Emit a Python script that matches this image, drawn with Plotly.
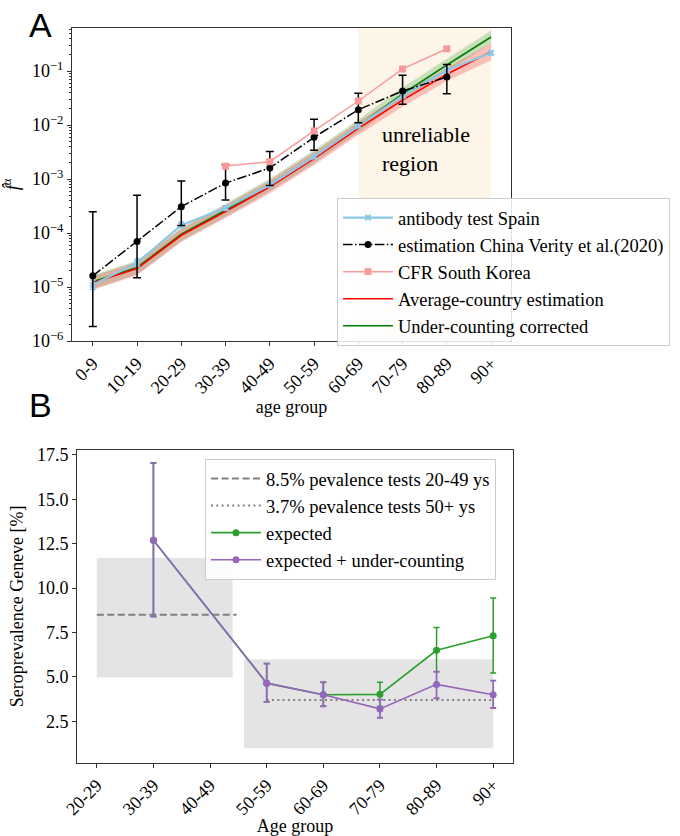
import plotly.graph_objects as go

# ---------------- Panel A data ----------------
age_A = ["0-9", "10-19", "20-29", "30-39", "40-49", "50-59", "60-69", "70-79", "80-89", "90+"]

spain = [1.1e-5, 2.8e-5, 1.4e-4, 2.9e-4, 7.8e-4, 2.6e-3, 9.6e-3, 3.5e-2, 0.104, 0.22]
spain_lo = [0.9e-5, 2.4e-5, 1.25e-4, 2.65e-4, 7.2e-4, 2.4e-3, 8.9e-3, 3.2e-2, 0.094, 0.20]
spain_hi = [1.35e-5, 3.3e-5, 1.6e-4, 3.2e-4, 8.5e-4, 2.8e-3, 1.03e-2, 3.8e-2, 0.115, 0.24]

age_verity = ["0-9", "10-19", "20-29", "30-39", "40-49", "50-59", "60-69", "70-79", "80-89"]
verity = [1.61e-5, 6.95e-5, 3.09e-4, 8.44e-4, 1.61e-3, 5.95e-3, 1.93e-2, 4.28e-2, 7.8e-2]
verity_lo = [1.85e-6, 1.49e-5, 1.38e-4, 4.08e-4, 7.64e-4, 3.44e-3, 1.11e-2, 2.45e-2, 3.8e-2]
verity_hi = [2.49e-4, 5.02e-4, 9.23e-4, 1.85e-3, 3.23e-3, 1.28e-2, 3.89e-2, 8.44e-2, 1.33e-1]

age_korea = ["30-39", "40-49", "50-59", "60-69", "70-79", "80-89"]
korea = [1.74e-3, 2.1e-3, 7.8e-3, 2.8e-2, 0.11, 0.26]

avg = [1.2e-5, 2.2e-5, 9.1e-5, 2.5e-4, 7.2e-4, 2.4e-3, 8.7e-3, 2.9e-2, 8.8e-2, 0.23]
avg_lo = [0.88e-5, 1.65e-5, 6.8e-5, 1.9e-4, 5.4e-4, 1.8e-3, 6.6e-3, 2.2e-2, 6.6e-2, 0.16]
avg_hi = [1.6e-5, 2.95e-5, 1.2e-4, 3.3e-4, 9.5e-4, 3.2e-3, 1.15e-2, 3.8e-2, 0.115, 0.33]

corr = [1.25e-5, 2.3e-5, 9.5e-5, 2.65e-4, 7.8e-4, 2.6e-3, 9.6e-3, 3.8e-2, 0.13, 0.43]
corr_lo = [0.92e-5, 1.7e-5, 7.1e-5, 2.0e-4, 5.9e-4, 1.95e-3, 7.3e-3, 2.9e-2, 0.10, 0.33]
corr_hi = [1.65e-5, 3.1e-5, 1.25e-4, 3.5e-4, 1.03e-3, 3.45e-3, 1.27e-2, 5.0e-2, 0.17, 0.57]

unreliable_span = ["60-69", "90+"]
ytick_A = [1e-6, 1e-5, 1e-4, 1e-3, 1e-2, 1e-1]
ytick_A_text = ["10<sup>−6</sup>", "10<sup>−5</sup>", "10<sup>−4</sup>",
                "10<sup>−3</sup>", "10<sup>−2</sup>", "10<sup>−1</sup>"]

# ---------------- Panel B data ----------------
age_B = ["20-29", "30-39", "40-49", "50-59", "60-69", "70-79", "80-89", "90+"]
age_pts = ["30-39", "50-59", "60-69", "70-79", "80-89", "90+"]

expected = [12.7, 4.65, 4.0, 4.02, 6.5, 7.32]
expected_lo = [8.4, 3.6, 3.35, 3.35, 5.29, 5.22]
expected_hi = [17.05, 5.75, 4.7, 4.7, 7.79, 9.44]

exp_uc = [12.7, 4.65, 4.0, 3.2, 4.58, 4.0]
exp_uc_lo = [8.4, 3.6, 3.35, 2.7, 3.8, 3.25]
exp_uc_hi = [17.05, 5.75, 4.7, 3.72, 5.3, 4.79]

# prevalence tests: level, CI low, CI high, box span (category positions), line span
prev_young = dict(level=8.5, lo=4.97, hi=11.7, box=(0, 2.4), line=(0, 2.47),
                  name="8.5% pevalence tests 20-49 ys")
prev_old = dict(level=3.7, lo=0.98, hi=6.0, box=(2.6, 7.0), line=(3, 7),
                name="3.7% pevalence tests 50+ ys")

SERIF = "Liberation Serif"
FS = 18
LFS = 18.5
AX = "#333333"

iA = {a: i for i, a in enumerate(age_A)}
iB = {a: i for i, a in enumerate(age_B)}
xA = [iA[a] for a in age_A]

fig = go.Figure()

# bands (green first, red on top)
fig.add_trace(go.Scatter(x=xA + xA[::-1], y=corr_hi + corr_lo[::-1], fill="toself",
                         fillcolor="rgba(0,128,0,0.2)", line=dict(width=0),
                         showlegend=False, hoverinfo="skip", xaxis="x", yaxis="y"))
fig.add_trace(go.Scatter(x=xA + xA[::-1], y=avg_hi + avg_lo[::-1], fill="toself",
                         fillcolor="rgba(255,0,0,0.22)", line=dict(width=0),
                         showlegend=False, hoverinfo="skip", xaxis="x", yaxis="y"))

fig.add_trace(go.Scatter(x=xA, y=corr, mode="lines", name="Under-counting corrected",
                         line=dict(color="green", width=1.6), legendrank=5,
                         legendgroup="g5", xaxis="x", yaxis="y"))
fig.add_trace(go.Scatter(x=xA, y=avg, mode="lines", name="Average-country estimation",
                         line=dict(color="red", width=1.6), legendrank=4,
                         legendgroup="g4", xaxis="x", yaxis="y"))
fig.add_trace(go.Scatter(x=xA, y=spain, mode="lines+markers", name="antibody test Spain",
                         line=dict(color="#8ec8e6", width=2.2),
                         marker=dict(symbol="x", size=6, color="#8ec8e6"),
                         error_y=dict(type="data", symmetric=False,
                                      array=[h - v for h, v in zip(spain_hi, spain)],
                                      arrayminus=[v - l for v, l in zip(spain, spain_lo)],
                                      color="#8ec8e6", thickness=1.5, width=3),
                         legendrank=1, legendgroup="g1", xaxis="x", yaxis="y"))
xV = [iA[a] for a in age_verity]
fig.add_trace(go.Scatter(x=xV, y=verity, mode="lines+markers",
                         name="estimation China Verity et al.(2020)",
                         line=dict(color="black", width=1.5, dash="9.6px,2.4px,1.5px,2.4px"),
                         marker=dict(symbol="circle", size=7, color="black"),
                         error_y=dict(type="data", symmetric=False,
                                      array=[h - v for h, v in zip(verity_hi, verity)],
                                      arrayminus=[v - l for v, l in zip(verity, verity_lo)],
                                      color="black", thickness=1.5, width=4),
                         legendrank=2, legendgroup="g2", xaxis="x", yaxis="y"))
xK = [iA[a] for a in age_korea]
fig.add_trace(go.Scatter(x=xK, y=korea, mode="lines+markers", name="CFR South Korea",
                         line=dict(color="#f99a9a", width=1.5),
                         marker=dict(symbol="square", size=7, color="#f99a9a"),
                         legendrank=3, legendgroup="g3", xaxis="x", yaxis="y"))

# ---------------- Panel B traces ----------------
for p, dash, grp in [(prev_young, "7px,3.5px", "h1"), (prev_old, "2px,3.3px", "h2")]:
    fig.add_trace(go.Scatter(x=list(p["line"]), y=[p["level"], p["level"]], mode="lines",
                             name=p["name"], line=dict(color="#808080", width=2, dash=dash),
                             legend="legend2", legendgroup=grp, xaxis="x2", yaxis="y2"))
xP = [iB[a] for a in age_pts]
fig.add_trace(go.Scatter(x=xP, y=expected, mode="lines+markers", name="expected",
                         line=dict(color="#2ca02c", width=1.6),
                         marker=dict(size=7, color="#2ca02c"),
                         error_y=dict(type="data", symmetric=False,
                                      array=[h - v for h, v in zip(expected_hi, expected)],
                                      arrayminus=[v - l for v, l in zip(expected, expected_lo)],
                                      color="#2ca02c", thickness=1.5, width=3),
                         legend="legend2", legendgroup="h3", xaxis="x2", yaxis="y2"))
fig.add_trace(go.Scatter(x=xP, y=exp_uc, mode="lines+markers", name="expected + under-counting",
                         line=dict(color="#9467bd", width=1.6),
                         marker=dict(size=7, color="#9467bd"),
                         error_y=dict(type="data", symmetric=False,
                                      array=[h - v for h, v in zip(exp_uc_hi, exp_uc)],
                                      arrayminus=[v - l for v, l in zip(exp_uc, exp_uc_lo)],
                                      color="#9467bd", thickness=1.8, width=3),
                         legend="legend2", legendgroup="h4", xaxis="x2", yaxis="y2"))

shapes = [
    dict(type="rect", xref="x", yref="y domain", x0=iA[unreliable_span[0]], x1=iA[unreliable_span[1]],
         y0=0, y1=1, fillcolor="rgba(245,222,179,0.3)", line=dict(width=0), layer="below"),
]
for p in (prev_young, prev_old):
    shapes.append(dict(type="rect", xref="x2", yref="y2", x0=p["box"][0], x1=p["box"][1],
                       y0=p["lo"], y1=p["hi"], fillcolor="#e4e4e4", line=dict(width=0),
                       layer="below"))

minor_vals = [k * 10.0 ** n for n in range(-6, 0) for k in range(2, 10)]

axis_common = dict(showline=True, linecolor=AX, linewidth=1, mirror=True, ticks="outside",
                   ticklen=4, tickcolor=AX, showgrid=False, zeroline=False,
                   tickfont=dict(family=SERIF, size=FS, color="black"),
                   automargin=False)

legend_common = dict(xanchor="left", yanchor="top",
                     bgcolor="rgba(255,255,255,0.85)", bordercolor="#cccccc", borderwidth=1,
                     font=dict(family=SERIF, size=LFS, color="black"),
                     traceorder="grouped", tracegroupgap=0, itemwidth=50)

fig.update_layout(
    width=680, height=836,
    margin=dict(l=0, r=0, t=0, b=0),
    paper_bgcolor="white", plot_bgcolor="white",
    font=dict(family=SERIF, size=FS, color="black"),
    shapes=shapes,
    xaxis=dict(domain=[72 / 680, 511 / 680], anchor="y", range=[-0.47, 9.45],
               tickmode="array", tickvals=xA, ticktext=age_A, tickangle=-45,
               title=dict(text="age group", font=dict(family=SERIF, size=FS), standoff=0),
               **axis_common),
    yaxis=dict(domain=[1 - 341 / 836, 1 - 28 / 836], anchor="x", type="log", range=[-6, -0.2],
               tickmode="array", tickvals=ytick_A, ticktext=ytick_A_text,
               minor=dict(tickmode="array", tickvals=minor_vals, ticks="outside", ticklen=2,
                          tickcolor=AX),
               title=dict(text="<i>f̂</i><sup>α</sup>", font=dict(family=SERIF, size=FS), standoff=12),
               **axis_common),
    xaxis2=dict(domain=[77 / 680, 513 / 680], anchor="y2", range=[-0.35, 7.35],
                tickmode="array", tickvals=list(range(len(age_B))), ticktext=age_B, tickangle=-45,
                title=dict(text="Age group", font=dict(family=SERIF, size=FS), standoff=4),
                **axis_common),
    yaxis2=dict(domain=[1 - 762.7 / 836, 1 - 450 / 836], anchor="x2", range=[0.17, 17.78],
                tickmode="linear", tick0=0, dtick=2.5, tickformat=".1f",
                title=dict(text="Seroprevalence Geneve [%]", font=dict(family=SERIF, size=FS),
                           standoff=8),
                **axis_common),
    legend=dict(x=337 / 680, y=1 - 198 / 836, **legend_common),
    legend2=dict(x=205 / 680, y=1 - 459 / 836, **legend_common),
    annotations=[
        dict(text="A", x=27 / 680, y=1 - 4 / 836, xref="paper", yref="paper",
             xanchor="left", yanchor="top", showarrow=False,
             font=dict(family="Liberation Sans", size=34, color="black")),
        dict(text="B", x=27 / 680, y=1 - 384 / 836, xref="paper", yref="paper",
             xanchor="left", yanchor="top", showarrow=False,
             font=dict(family="Liberation Sans", size=34, color="black")),
        dict(text="unreliable<br>region", x=6.5, y=-2.45, xref="x", yref="y",
             xanchor="left", yanchor="middle", align="left", showarrow=False,
             font=dict(family=SERIF, size=22, color="black")),
    ],
)

fig.write_html("out.html", config={"displayModeBar": False},
               post_script="document.body.style.margin='0px';")
